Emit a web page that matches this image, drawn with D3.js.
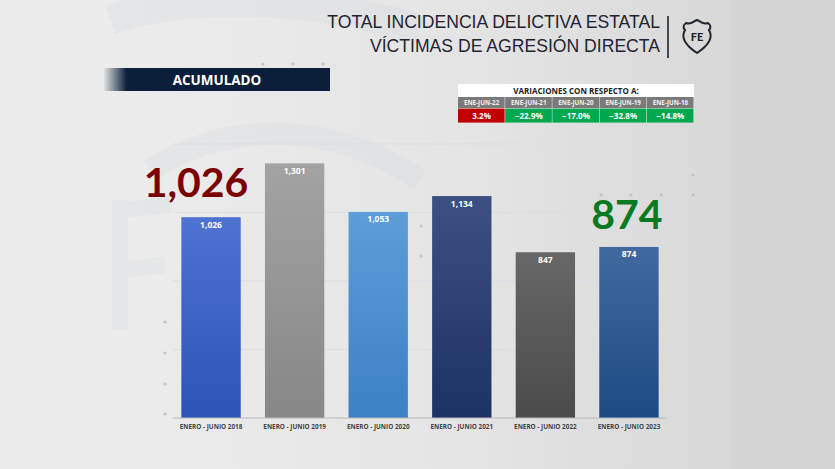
<!DOCTYPE html>
<html>
<head>
<meta charset="utf-8">
<script src="https://cdn.jsdelivr.net/npm/d3@7"></script>
<style>
  html, body { margin: 0; padding: 0; background: #e6e6e6; }
  svg { display: block; }
</style>
</head>
<body>
<div id="chart"></div>
<script>
'use strict';

// the data
var categories = ['ENERO - JUNIO 2018', 'ENERO - JUNIO 2019', 'ENERO - JUNIO 2020',
                  'ENERO - JUNIO 2021', 'ENERO - JUNIO 2022', 'ENERO - JUNIO 2023'];
var values = [1026, 1301, 1053, 1134, 847, 874];
var gridTicks = [350, 700, 1050, 1400];
var varLabels = ['ENE-JUN-22', 'ENE-JUN-21', 'ENE-JUN-20', 'ENE-JUN-19', 'ENE-JUN-18'];
var varValues = [3.2, -22.9, -17.0, -32.8, -14.8];

var barTop = ['#4d72d2', '#a3a3a3', '#5d9ed8', '#3d5083', '#676767', '#41699f'];
var barBottom = ['#2c53b6', '#878787', '#3c80c6', '#1c3164', '#4b4b4b', '#1c4a82'];

var width = 835, height = 469;

var svg = d3.select('#chart')
    .append('svg')
    .attr('width', width)
    .attr('height', height);

var defs = svg.append('defs');

// background
var bg = defs.append('linearGradient').attr('id', 'bg')
    .attr('x1', 0).attr('y1', 0).attr('x2', 1).attr('y2', 0);
bg.append('stop').attr('offset', 0).attr('stop-color', '#ececec');
bg.append('stop').attr('offset', 0.6).attr('stop-color', '#e4e4e4');
bg.append('stop').attr('offset', 1).attr('stop-color', '#d8d8d8');
svg.append('rect').attr('width', width).attr('height', height).attr('fill', '#ebebeb');
svg.append('rect').attr('x', 104).attr('width', 626).attr('height', height).attr('fill', 'url(#bg)');
svg.append('rect').attr('x', 730).attr('width', 105).attr('height', height).attr('fill', '#d4d4d4');

// faint swirl decoration
var deco = svg.append('g').attr('fill', 'none').attr('stroke', '#d8dce1').attr('opacity', 0.35);
deco.append('path').attr('d', 'M110,20 C200,-10 330,0 420,30').attr('stroke-width', 30);
deco.append('path').attr('d', 'M150,170 C230,120 330,120 420,180').attr('stroke-width', 22);
deco.append('path').attr('d', 'M120,200 L120,330 M120,210 L170,205 M120,270 L165,265').attr('stroke-width', 16);

// decorative dots
var dots = [[263, 64], [293, 64], [323, 64], [165, 322], [165, 353], [165, 384], [165, 414],
            [421, 226], [421, 256], [601, 195], [631, 195], [661, 195], [693, 175], [693, 195]];
svg.append('g').selectAll('circle').data(dots).join('circle')
    .attr('cx', function(d) { return d[0]; })
    .attr('cy', function(d) { return d[1]; })
    .attr('r', 1.6)
    .attr('fill', '#c4c4c4');

// title
var title = svg.append('g')
    .attr('font-family', '"Liberation Sans", Arial, sans-serif')
    .attr('font-size', 17.6)
    .attr('fill', '#1f2430')
    .attr('text-anchor', 'end');
title.append('text').attr('x', 660).attr('y', 28).text('TOTAL INCIDENCIA DELICTIVA ESTATAL');
title.append('text').attr('x', 660).attr('y', 52).text('VÍCTIMAS DE AGRESIÓN DIRECTA');
svg.append('line').attr('x1', 668).attr('x2', 668).attr('y1', 16).attr('y2', 58)
    .attr('stroke', '#1f2430').attr('stroke-width', 1.6);

// shield badge
var badge = svg.append('g').attr('transform', 'translate(697,37)');
badge.append('path')
    .attr('d', 'M-11,-14 C-6,-12 -3,-16 0,-17 C3,-16 6,-12 11,-14 C14,-12 14,-9 12,-7 C15,-2 15,6 0,16 C-15,6 -15,-2 -12,-7 C-14,-9 -14,-12 -11,-14 Z')
    .attr('fill', 'none').attr('stroke', '#1f2430').attr('stroke-width', 2);
badge.append('text').attr('y', 4).attr('text-anchor', 'middle')
    .attr('font-family', 'Lato, sans-serif').attr('font-weight', 900)
    .attr('font-size', 11).attr('fill', '#1f2430').text('FE');

// ACUMULADO band
var bandGrad = defs.append('linearGradient').attr('id', 'bandGrad')
    .attr('x1', 0).attr('y1', 0).attr('x2', 1).attr('y2', 0);
bandGrad.append('stop').attr('offset', 0).attr('stop-color', '#0b1f3a').attr('stop-opacity', 0.05);
bandGrad.append('stop').attr('offset', 0.1).attr('stop-color', '#0b1f3a').attr('stop-opacity', 1);
bandGrad.append('stop').attr('offset', 1).attr('stop-color', '#0b1f3a').attr('stop-opacity', 1);
svg.append('rect').attr('x', 104).attr('y', 68).attr('width', 226).attr('height', 23)
    .attr('fill', 'url(#bandGrad)');
svg.append('text').attr('x', 217).attr('y', 84.5).attr('text-anchor', 'middle')
    .attr('font-family', '"Open Sans", sans-serif').attr('font-weight', 700)
    .attr('font-size', 13.5).attr('fill', '#ffffff').text('ACUMULADO');

// variations table
var tx = 458, cellW = 47.2;
var table = svg.append('g').attr('font-family', '"Open Sans", sans-serif').attr('font-weight', 700);
table.append('rect').attr('x', tx).attr('y', 84).attr('width', cellW * 5).attr('height', 13).attr('fill', '#ffffff');
table.append('text').attr('x', tx + cellW * 2.5).attr('y', 93.5).attr('text-anchor', 'middle')
    .attr('font-size', 8).attr('fill', '#222').text('VARIACIONES CON RESPECTO A:');
varLabels.forEach(function(lab, i) {
    table.append('rect').attr('x', tx + i * cellW).attr('y', 97).attr('width', cellW - 0.6).attr('height', 11)
        .attr('fill', '#7a7a7a');
    table.append('text').attr('x', tx + i * cellW + cellW / 2).attr('y', 105).attr('text-anchor', 'middle')
        .attr('font-size', 6.3).attr('fill', '#f0f0f0').text(lab);
    table.append('rect').attr('x', tx + i * cellW).attr('y', 108.6).attr('width', cellW - 0.6).attr('height', 14)
        .attr('fill', varValues[i] > 0 ? '#c00000' : '#00a84f');
    table.append('text').attr('x', tx + i * cellW + cellW / 2).attr('y', 119).attr('text-anchor', 'middle')
        .attr('font-size', 8).attr('fill', '#ffffff').text(d3.format('.1f')(varValues[i]) + '%');
});

// set the ranges
var x = d3.scaleBand().domain(categories).range([169.25, 670.75])
    .paddingInner(0.29).paddingOuter(0.145);
var y = d3.scaleLinear().domain([0, 1400]).range([418, 144]);

// gridlines
svg.append('g').selectAll('line').data(gridTicks).join('line')
    .attr('x1', 173).attr('x2', 666)
    .attr('y1', function(d) { return y(d); })
    .attr('y2', function(d) { return y(d); })
    .attr('stroke', '#d9dde6').attr('stroke-width', 1);

// bar gradients
values.forEach(function(v, i) {
    var g = defs.append('linearGradient').attr('id', 'bar' + i)
        .attr('x1', 0).attr('y1', 0).attr('x2', 0).attr('y2', 1);
    g.append('stop').attr('offset', 0).attr('stop-color', barTop[i]);
    g.append('stop').attr('offset', 1).attr('stop-color', barBottom[i]);
});

// bars
svg.append('g').selectAll('rect').data(values).join('rect')
    .attr('x', function(d, i) { return x(categories[i]); })
    .attr('y', function(d) { return y(d); })
    .attr('width', x.bandwidth())
    .attr('height', function(d) { return y(0) - y(d); })
    .attr('fill', function(d, i) { return 'url(#bar' + i + ')'; });

// value labels
svg.append('g').selectAll('text').data(values).join('text')
    .attr('x', function(d, i) { return x(categories[i]) + x.bandwidth() / 2; })
    .attr('y', function(d) { return y(d) + 10.5; })
    .attr('text-anchor', 'middle')
    .attr('font-family', '"Open Sans", sans-serif')
    .attr('font-weight', 700)
    .attr('font-size', 8.5)
    .attr('fill', '#ffffff')
    .text(d3.format(','));

// add the X Axis
var xAxis = svg.append('g')
    .attr('transform', 'translate(0,' + y(0) + ')')
    .call(d3.axisBottom(x).tickSize(0).tickPadding(6));
xAxis.select('.domain').attr('d', 'M173,0H666').attr('stroke', '#b8b8b8').attr('stroke-width', 1.2);
xAxis.selectAll('text')
    .attr('font-family', '"Open Sans", sans-serif')
    .attr('font-weight', 700)
    .attr('font-size', 6.4)
    .attr('fill', '#444');

// highlight numbers
svg.append('text')
    .attr('x', x(categories[0]) + x.bandwidth() / 2 - 15)
    .attr('y', 197)
    .attr('text-anchor', 'middle')
    .attr('font-family', 'Lato, sans-serif')
    .attr('font-weight', 700)
    .attr('font-size', 41)
    .attr('fill', '#7a0000')
    .text(d3.format(',')(values[0]));
svg.append('text')
    .attr('x', x(categories[5]) + x.bandwidth() / 2 - 2)
    .attr('y', 229)
    .attr('text-anchor', 'middle')
    .attr('font-family', 'Lato, sans-serif')
    .attr('font-weight', 700)
    .attr('font-size', 41)
    .attr('fill', '#0a7a22')
    .text(d3.format(',')(values[5]));
</script>
</body>
</html>
